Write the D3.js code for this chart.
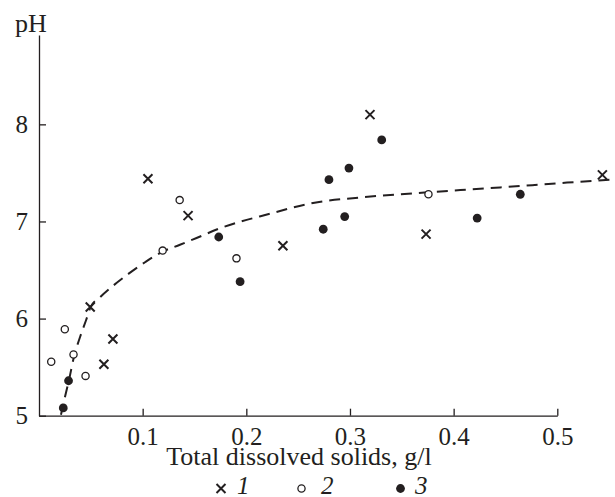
<!DOCTYPE html>
<html>
<head>
<meta charset="utf-8">
<script src="https://cdn.jsdelivr.net/npm/d3@7/dist/d3.min.js"></script>
<style>
  html, body { margin: 0; padding: 0; background: #fff; }
  svg { display: block; }
  text { font-family: "Liberation Serif", "Times New Roman", serif; fill: #231f20; }
</style>
</head>
<body>
<svg id="chart" width="615" height="497"></svg>
<script>
// Series 1 (crosses): total dissolved solids (g/l) and pH
const tds1 = [0.0494, 0.0626, 0.0713, 0.1051, 0.1438, 0.2353, 0.3193, 0.3734, 0.5435];
const ph1  = [6.12,   5.53,   5.79,   7.44,   7.06,   6.75,   8.10,   6.87,   7.48];

// Series 2 (open circles)
const tds2 = [0.0118, 0.0249, 0.0333, 0.0449, 0.1193, 0.1357, 0.1905, 0.3757];
const ph2  = [5.555,  5.89,   5.63,   5.41,   6.70,   7.22,   6.62,   7.28];

// Series 3 (filled circles)
const tds3 = [0.0234, 0.0285, 0.1734, 0.1940, 0.2742, 0.2797, 0.2949, 0.2990, 0.3306, 0.4227, 0.4643];
const ph3  = [5.08,   5.36,   6.84,   6.38,   6.92,   7.43,   7.05,   7.55,   7.84,   7.035,  7.28];

// Dashed trend curve, sampled along its course
const trendTds = [0.0212, 0.0251, 0.0292, 0.0338, 0.0396, 0.0453, 0.0499, 0.0589, 0.0717, 0.0862,
                  0.1023, 0.1193, 0.136, 0.152, 0.1746, 0.2229, 0.2644, 0.3126, 0.361, 0.4448, 0.5094, 0.551];
const trendPh  = [5.01, 5.195, 5.38, 5.61, 5.81, 5.98, 6.12, 6.22, 6.34, 6.46,
                  6.58, 6.69, 6.76, 6.83, 6.93, 7.08, 7.19, 7.25, 7.29, 7.35, 7.40, 7.43];

const xTicks = [0.1, 0.2, 0.3, 0.4, 0.5];
const yTicks = [5, 6, 7, 8];
const legendLabels = ["1", "2", "3"];
const xTitle = "Total dissolved solids, g/l";
const yTitle = "pH";

const ink = "#231f20";
const svg = d3.select("#chart");

const x = d3.scaleLinear().domain([0, 0.5]).range([39, 557.3]);
const y = d3.scaleLinear().domain([5, 8.92]).range([415.7, 35]);

// X axis: ticks point up into the plot
const xAxis = svg.append("g")
  .attr("transform", `translate(0,${y(5)})`)
  .call(d3.axisBottom(x).tickValues(xTicks).tickFormat(d3.format(".1f"))
        .tickSizeInner(-7).tickSizeOuter(0).tickPadding(11.5));
xAxis.selectAll("text").attr("font-size", 25).style("font-family", "Liberation Serif");

// Y axis: ticks point right into the plot
const yAxis = svg.append("g")
  .attr("transform", `translate(${x(0)},0)`)
  .call(d3.axisLeft(y).tickValues(yTicks).tickFormat(d3.format("d"))
        .tickSizeInner(-7).tickSizeOuter(0).tickPadding(11));
yAxis.selectAll("text").attr("font-size", 25).style("font-family", "Liberation Serif");

svg.selectAll(".domain, .tick line").attr("stroke", ink).attr("stroke-width", 1.3);
svg.selectAll(".tick text").attr("fill", ink);

// Axis titles
svg.append("text").attr("x", 15).attr("y", 32).attr("font-size", 26).text(yTitle);
svg.append("text").attr("x", 299).attr("y", 465).attr("font-size", 26)
  .attr("text-anchor", "middle").text(xTitle);

// Trend curve
const trend = trendTds.map((t, i) => [t, trendPh[i]]);
svg.append("path")
  .datum(trend)
  .attr("fill", "none")
  .attr("stroke", ink)
  .attr("stroke-width", 2)
  .attr("stroke-dasharray", "11,7")
  .attr("d", d3.line().x(d => x(d[0])).y(d => y(d[1])).curve(d3.curveMonotoneX));

// Marker drawing helpers
function cross(g, cx, cy) {
  const s = 4.5;
  g.append("path")
    .attr("d", `M${cx - s},${cy - s}L${cx + s},${cy + s}M${cx - s},${cy + s}L${cx + s},${cy - s}`)
    .attr("stroke", ink).attr("stroke-width", 2).attr("fill", "none");
}
function openCircle(g, cx, cy) {
  g.append("circle").attr("cx", cx).attr("cy", cy).attr("r", 3.6)
    .attr("fill", "#fff").attr("stroke", ink).attr("stroke-width", 1.3);
}
function dot(g, cx, cy) {
  g.append("circle").attr("cx", cx).attr("cy", cy).attr("r", 4.4).attr("fill", ink);
}

const marks = svg.append("g");
tds1.forEach((t, i) => cross(marks, x(t), y(ph1[i])));
tds2.forEach((t, i) => openCircle(marks, x(t), y(ph2[i])));
tds3.forEach((t, i) => dot(marks, x(t), y(ph3[i])));

// Legend
const legend = svg.append("g");
const legendItems = [
  { draw: cross, mx: 221, tx: 237 },
  { draw: openCircle, mx: 301.5, tx: 321 },
  { draw: dot, mx: 400.5, tx: 415 }
];
legendItems.forEach((it, i) => {
  it.draw(legend, it.mx, 488.5);
  legend.append("text").attr("x", it.tx).attr("y", 494).attr("font-size", 25)
    .attr("font-style", "italic").text(legendLabels[i]);
});
</script>
</body>
</html>
